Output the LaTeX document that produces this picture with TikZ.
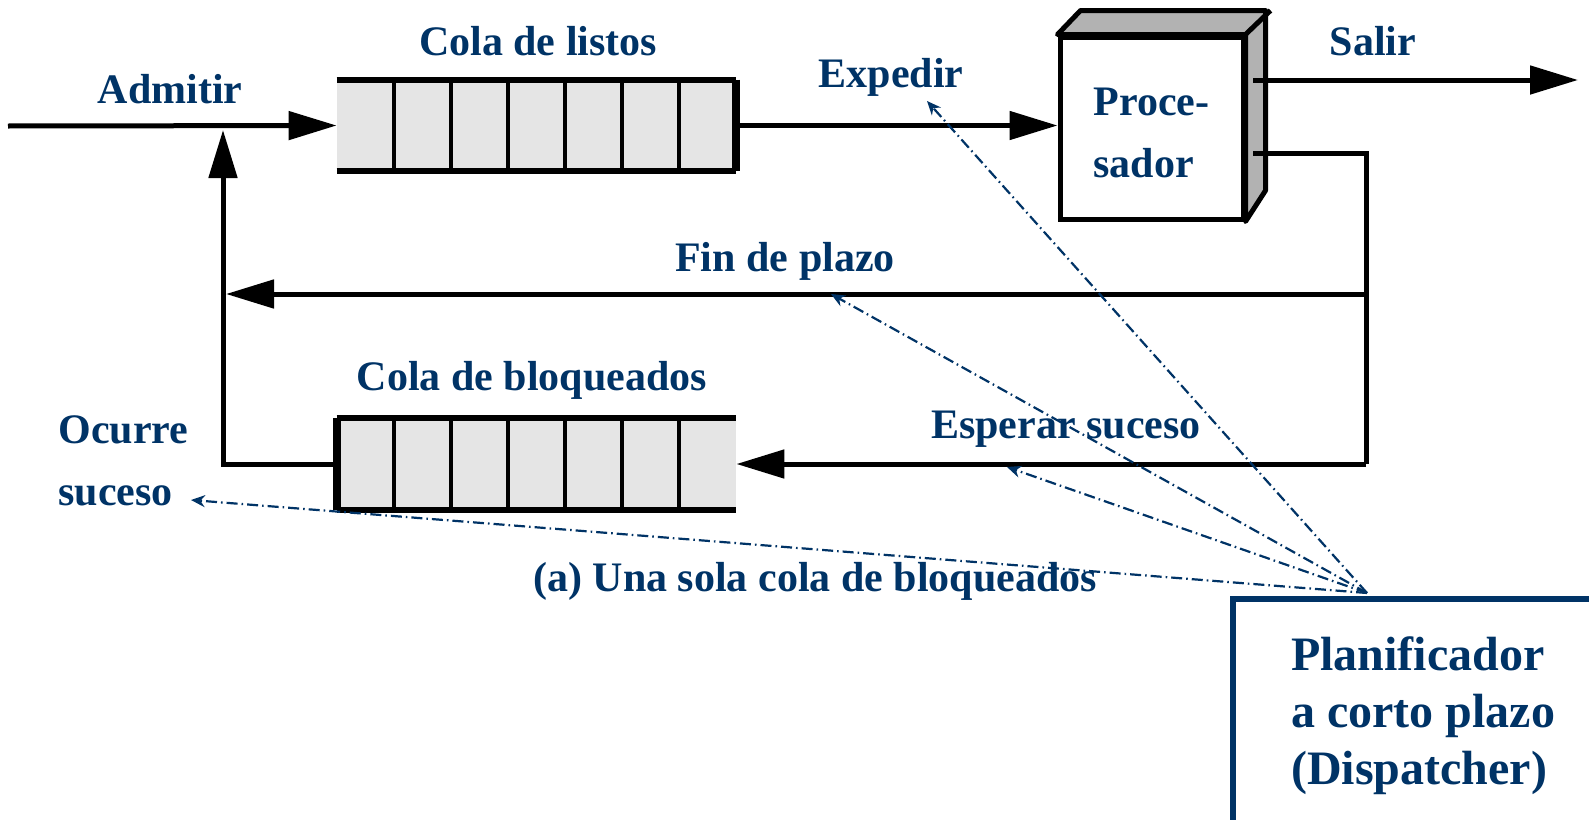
\documentclass[tikz,border=0pt]{standalone}
\usepackage{fontspec}
\setmainfont{Liberation Serif}
\usetikzlibrary{arrows.meta}
\definecolor{inkblue}{RGB}{0,51,102}
\tikzset{
  flow/.style={line width=2.5pt,-{Triangle[length=24pt,width=14pt]}},
  wire/.style={line width=2.5pt},
  lbl/.style={text=inkblue,font=\bfseries\fontsize{21}{31}\selectfont,inner sep=0pt},
  ctl/.style={inkblue,line width=1.1pt,dash pattern=on 5.5pt off 2pt on 0.8pt off 2pt,-{Stealth[length=7pt,width=6pt]}},
  queue/.style={fill=gray!20,minimum width=199.5pt,minimum height=45.5pt,inner sep=0pt},
}
\begin{document}
\begin{tikzpicture}[x=0.5pt,y=-0.5pt]
  \useasboundingbox (0,0) rectangle (1589,819);
  \clip (0,0) rectangle (1589,819);

  % colas
  \node[queue] (listos) at (536.5,125.5) {};
  \node[queue] (bloq) at (536.5,464) {};
  \foreach \q in {listos,bloq} {
    \draw[line width=3pt] (\q.north west) -- (\q.north east);
    \draw[line width=3pt] (\q.south west) -- (\q.south east);
    \foreach \i in {1,...,6}
      \draw[line width=2pt] ([xshift=\i*28.5pt]\q.north west) -- ([xshift=\i*28.5pt]\q.south west);
  }
  \draw[line width=4pt] (listos.north east) -- (listos.south east);
  \draw[line width=4pt] (bloq.north west) -- (bloq.south west);

  % procesador
  \node[draw,line width=2.5pt,fill=white,minimum width=91.5pt,minimum height=91pt,lbl,align=left,text height=50pt] (cpu) at (1151.5,128) {Proce-\\sador};
  \filldraw[fill=gray!60,line width=2.5pt,line join=round] (cpu.north west) -- ++(23,-24) -- ++(185,0) -- ++(0,180) -- (cpu.south east) -- (cpu.north east) -- cycle;
  \draw[line width=2.5pt] (cpu.north east) -- ++(25,-24);

  \coordinate (ini) at (8,126);
  \coordinate (join) at (223,130);
  \coordinate (s1) at (1253,80);
  \coordinate (salida) at (1578,80);
  \coordinate (s2) at (1253,153);
  \coordinate (rc) at (1366,153);
  \coordinate (rf) at (1366,294);
  \coordinate (rb) at (1366,464);

  \draw[flow] (ini) -- (listos.west);
  \draw[flow] (listos.east) -- (listos.east -| cpu.west);
  \draw[flow] (s1) -- (salida);
  \draw[wire,line join=miter] (s2) -- (rc) -- (rb);
  \draw[flow,shorten >=1.5pt] (rf) -- (rf -| join);
  \draw[flow] (rb) -- (bloq.east);
  \draw[flow] (bloq.west) -| (join);

  % textos
  \node[lbl,anchor=base] (admitir) at (170,103) {Admitir};
  \node[lbl,anchor=base] (tlistos) at (538,55) {Cola de listos};
  \node[lbl,anchor=base] (expedir) at (891,87) {Expedir};
  \node[lbl,anchor=base] (salir) at (1373,55) {Salir};
  \node[lbl,anchor=base] (fin) at (785,271) {Fin de plazo};
  \node[lbl,anchor=base] (tbloq) at (532,390) {Cola de bloqueados};
  \node[lbl,anchor=base west] (ocurre) at (58,443) {Ocurre};
  \node[lbl,anchor=base west] (suceso) at (58,505) {suceso};
  \node[lbl,anchor=base] (esperar) at (1066,438) {Esperar suceso};
  \node[lbl,anchor=base] (caption) at (815,591) {(a) Una sola cola de bloqueados};

  % planificador
  \node[draw=inkblue,line width=3pt,anchor=north west,minimum width=190pt,minimum height=116.5pt,
        text=inkblue,font=\bfseries\fontsize{24}{28.5}\selectfont,align=left] (plan) at (1230,596) {Planificador\\a corto plazo\\(Dispatcher)};

  \coordinate (src) at (1367,593);
  \coordinate (kexp) at (927,101);
  \coordinate (kfin) at (831,294);
  \coordinate (kesp) at (1007,467);
  \coordinate (kocu) at (191,500);
  \foreach \k in {kexp,kfin,kesp,kocu}
    \draw[ctl] (src) -- (\k);
\end{tikzpicture}
\end{document}
